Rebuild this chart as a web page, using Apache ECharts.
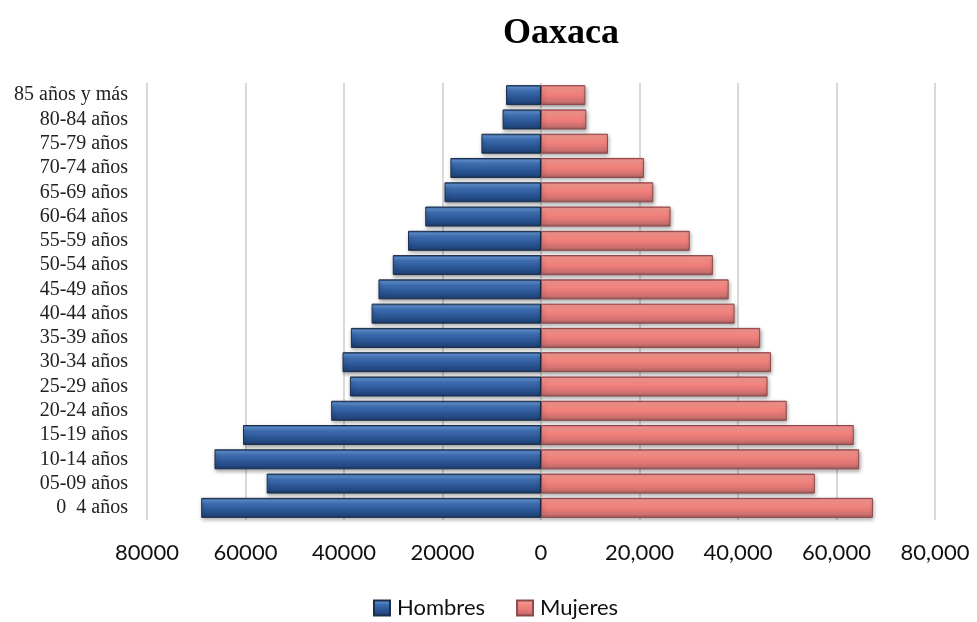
<!DOCTYPE html>
<html>
<head>
<meta charset="utf-8">
<script src="https://cdn.jsdelivr.net/npm/echarts@6/dist/echarts.min.js"></script>
<style>html,body{margin:0;padding:0;background:#fff}#c{width:977px;height:622px}</style>
</head>
<body>
<div id="c"></div>
<script>
const categories = ['0  4 años','05-09 años','10-14 años','15-19 años','20-24 años','25-29 años','30-34 años','35-39 años','40-44 años','45-49 años','50-54 años','55-59 años','60-64 años','65-69 años','70-74 años','75-79 años','80-84 años','85 años y más'];
const hombres = [69000, 55700, 66300, 60500, 42600, 38800, 40300, 38600, 34400, 33000, 30100, 27000, 23500, 19600, 18400, 12100, 7800, 7100];
const mujeres = [67400, 55600, 64600, 63500, 49900, 46000, 46700, 44500, 39300, 38100, 34900, 30200, 26300, 22800, 20900, 13600, 9200, 9000];
const xTicks = {min: -80000, max: 80000, interval: 20000};

const sans = "'Lato','Open Sans','Liberation Sans',sans-serif";
const serif = "'Liberation Serif','DejaVu Serif',serif";

const blue = {type:'linear',x:0,y:0,x2:0,y2:1,colorStops:[
  {offset:0,color:'#1e3f6e'},{offset:0.12,color:'#5d8fd0'},{offset:0.3,color:'#3e6db0'},
  {offset:0.6,color:'#2c5797'},{offset:0.88,color:'#21467d'},{offset:1,color:'#173258'}]};
const red = {type:'linear',x:0,y:0,x2:0,y2:1,colorStops:[
  {offset:0,color:'#e0304a'},{offset:0.1,color:'#f69a92'},{offset:0.35,color:'#f2867f'},
  {offset:0.6,color:'#e87a77'},{offset:0.85,color:'#c96f6e'},{offset:1,color:'#9a5656'}]};

const chart = echarts.init(document.getElementById('c'), null, {renderer:'canvas'});
chart.setOption({
  animation:false,
  title:{text:'Oaxaca',left:498,top:11,textStyle:{fontFamily:serif,fontSize:36,fontWeight:'bold',color:'#000'}},
  legend:{left:373,top:597,padding:0,itemWidth:16,itemHeight:15,itemGap:31,icon:'rect',
    textStyle:{fontFamily:sans,fontSize:22,color:'#111',padding:[0,0,0,2]},data:['Hombres','Mujeres']},
  grid:{left:147,right:42,top:83,bottom:102,containLabel:false},
  xAxis:{type:'value',min:xTicks.min,max:xTicks.max,interval:xTicks.interval,
    axisLine:{show:false},axisTick:{show:false},
    splitLine:{show:true,lineStyle:{color:'#d9d9d9',width:2}},
    axisLabel:{margin:22,fontFamily:sans,fontSize:22,color:'#111',
      formatter:function(v){ if(v<0) return String(-v); if(v===0) return '0'; return v.toString().replace(/\B(?=(\d{3})+(?!\d))/g, ','); }}},
  yAxis:{type:'category',data:categories,
    axisLine:{show:false,onZero:false},axisTick:{show:false},
    axisLabel:{interval:0,margin:19,fontFamily:serif,fontSize:20,color:'#222',padding:[3,0,0,0]}},
  series:[
    {name:'Hombres',type:'bar',stack:'t',barWidth:20,data:hombres.map(v=>-v),
      itemStyle:{color:blue,borderColor:'#1c2f4a',borderWidth:1,shadowColor:'rgba(0,0,0,0.35)',shadowBlur:4,shadowOffsetY:2,shadowOffsetX:1}},
    {name:'Mujeres',type:'bar',stack:'t',barWidth:20,data:mujeres,
      itemStyle:{color:red,borderColor:'#8c4a4a',borderWidth:1,shadowColor:'rgba(0,0,0,0.35)',shadowBlur:4,shadowOffsetY:2,shadowOffsetX:1}}
  ]
});
</script>
</body>
</html>
